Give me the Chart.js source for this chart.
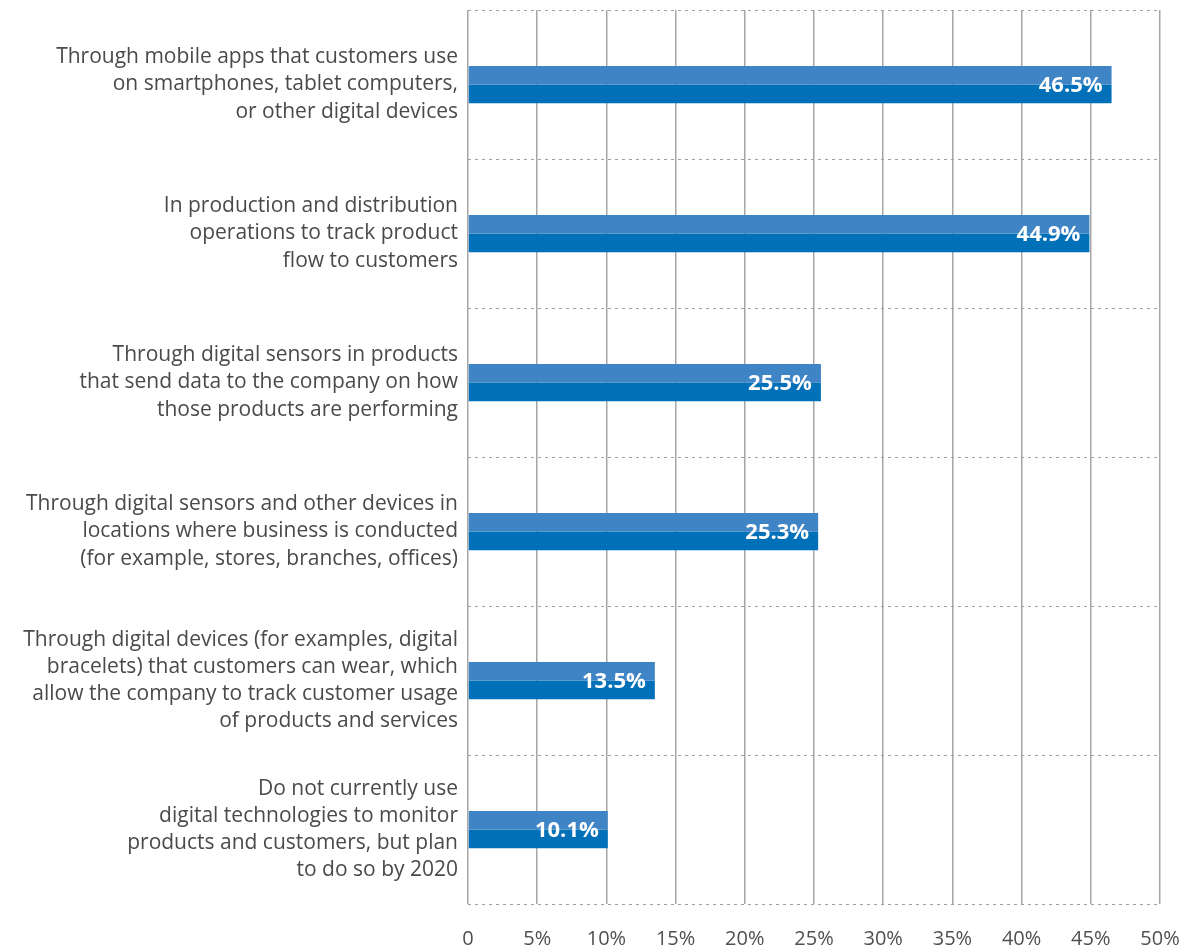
<!DOCTYPE html>
<html>
<head>
<meta charset="utf-8">
<title>Digital monitoring of products and customers</title>
<script src="https://cdn.jsdelivr.net/npm/chart.js@4"></script>
<style>
  html, body { margin: 0; padding: 0; background: #fff; }
  #wrap { width: 1182px; height: 949px; position: relative; }
</style>
</head>
<body>
<div id="wrap"><canvas id="usageChart"></canvas></div>
<script>
// category labels, one array of lines per bar
const categories = [
    ['Through mobile apps that customers use', 'on smartphones, tablet computers,', 'or other digital devices'],
    ['In production and distribution', 'operations to track product', 'flow to customers'],
    ['Through digital sensors in products', 'that send data to the company on how', 'those products are performing'],
    ['Through digital sensors and other devices in', 'locations where business is conducted', '(for example, stores, branches, offices)'],
    ['Through digital devices (for examples, digital', 'bracelets) that customers can wear, which', 'allow the company to track customer usage', 'of products and services'],
    ['Do not currently use', 'digital technologies to monitor', 'products and customers, but plan', 'to do so by 2020']
];

// share of respondents, percent
const shares = [46.5, 44.9, 25.5, 25.3, 13.5, 10.1];

// x axis ticks
const tickValues = [0, 5, 10, 15, 20, 25, 30, 35, 40, 45, 50];

const fontFamily = '"Open Sans", sans-serif';

// writes the value at the right end of each bar
const valueLabels = {
    id: 'valueLabels',
    afterDatasetsDraw(chart) {
        const ctx = chart.ctx;
        const top = chart.getDatasetMeta(0).data;
        const bottom = chart.getDatasetMeta(1).data;
        ctx.save();
        ctx.fillStyle = '#ffffff';
        ctx.font = 'bold 22px ' + fontFamily;
        ctx.textAlign = 'right';
        ctx.textBaseline = 'middle';
        shares.forEach((v, i) => {
            const y = (top[i].y + bottom[i].y) / 2;
            ctx.fillText(v.toFixed(1) + '%', top[i].x - 9, y + 1);
        });
        ctx.restore();
    }
};

const ctx = document.getElementById('usageChart').getContext('2d');
const usageChart = new Chart(ctx, {
    type: 'bar',
    data: {
        labels: categories,
        datasets: [
            { data: shares, backgroundColor: '#3f84c4', barPercentage: 1, categoryPercentage: 0.25 },
            { data: shares, backgroundColor: '#0070b8', barPercentage: 1, categoryPercentage: 0.25 }
        ]
    },
    options: {
        indexAxis: 'y',
        responsive: true,
        maintainAspectRatio: false,
        animation: false,
        layout: { padding: { top: 10, right: 22, bottom: 0, left: 0 } },
        plugins: {
            legend: { display: false },
            tooltip: { enabled: false }
        },
        scales: {
            x: {
                min: 0,
                max: 50,
                afterBuildTicks: scale => {
                    scale.ticks = tickValues.map(v => ({ value: v }));
                },
                afterFit: scale => {
                    scale.paddingLeft = 0;
                    scale.paddingRight = 0;
                    scale.paddingTop = 0;
                    scale.paddingBottom = 0;
                    scale.height = 45;
                },
                grid: { color: '#a6a6a6', lineWidth: 1.5, drawTicks: false },
                border: { display: false },
                ticks: {
                    padding: 23,
                    color: '#505050',
                    font: { family: fontFamily, size: 20 },
                    callback: v => v === 0 ? '0' : v + '%'
                }
            },
            y: {
                afterFit: scale => {
                    scale.width = 468;
                    scale.paddingTop = 0;
                    scale.paddingBottom = 0;
                },
                grid: {
                    offset: true,
                    color: '#a0a0a0',
                    lineWidth: 1,
                    drawTicks: false
                },
                // dotted lines between the categories
                border: { display: false, dash: [3, 4] },
                ticks: {
                    padding: 10,
                    color: '#4a4a4a',
                    font: { family: fontFamily, size: 21, lineHeight: 1.3 }
                }
            }
        }
    },
    plugins: [valueLabels]
});
</script>
</body>
</html>
